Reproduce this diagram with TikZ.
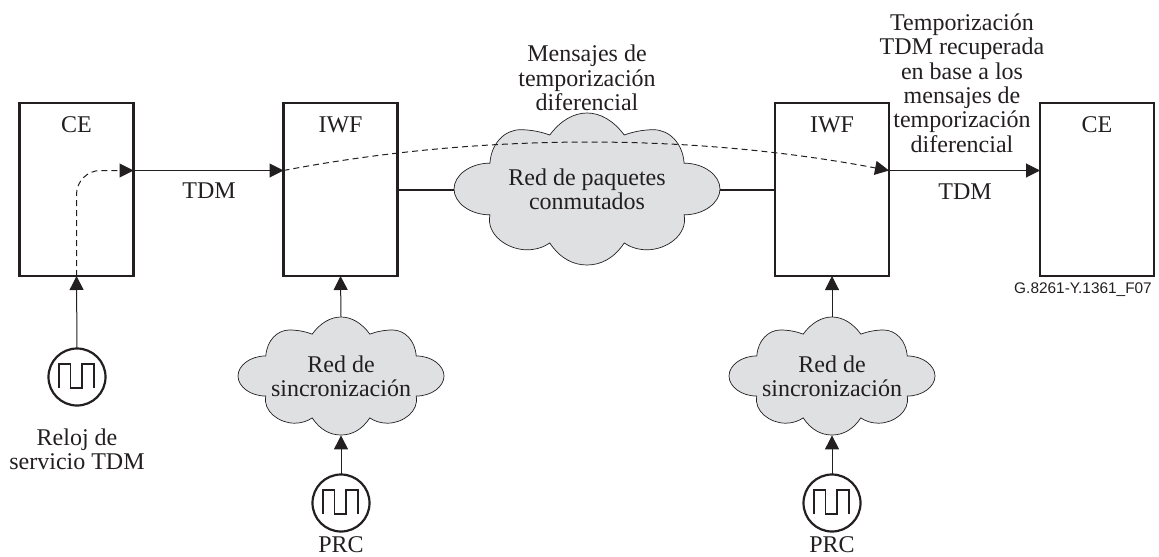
\documentclass[tikz,border=0pt]{standalone}
\usepackage{fontspec}
\setmainfont{Liberation Serif}
\setsansfont{Liberation Sans}
\usetikzlibrary{arrows.meta}
\definecolor{inkc}{HTML}{231F20}
\definecolor{cloudc}{HTML}{DFE0E2}
\tikzset{
	txt/.style = {inner sep=0pt, align=center, text=inkc, font=\fontsize{12}{12.2}\selectfont},
	netbox/.style = {draw=inkc, line width=1.25pt, minimum width=57pt, minimum height=86.5pt, inner sep=0pt, outer sep=0pt},
	clock/.style = {circle, draw=inkc, line width=1.1pt, minimum size=28.5pt, inner sep=0pt, outer sep=0pt},
	sig/.style = {draw=inkc, line width=.5pt},
	dashsig/.style = {draw=inkc, line width=.5pt, dash pattern = on 3pt off 2pt},
	wire/.style = {draw=inkc, line width=1pt},
	pulse/.pic = {
		\draw [inkc, line width=.85pt] (-18,11) -- (-18,-13) -- (-6.5,-13) -- (-6.5,11) -- (5,11) -- (5,-13) -- (17,-13) -- (17,11);
	},
	cloudshape/.pic = {
		\draw [fill=cloudc, draw=inkc, line width=.35pt] (-73,-34) .. controls (-88,-34) and (-100,-18) .. (-100,0)
			.. controls (-100,18) and (-88,34) .. (-73,34)
			.. controls (-76,60) and (-60,80) .. (-45,80)
			.. controls (-38,80) and (-32,76) .. (-28,71)
			.. controls (-20,92) and (-10,100) .. (0,100)
			.. controls (10,100) and (20,92) .. (28,71)
			.. controls (32,76) and (38,80) .. (45,80)
			.. controls (60,80) and (76,60) .. (73,34)
			.. controls (88,34) and (100,18) .. (100,0)
			.. controls (100,-18) and (88,-34) .. (73,-34)
			.. controls (72,-60) and (62,-78) .. (50,-78)
			.. controls (42,-78) and (34,-75) .. (28,-71)
			.. controls (20,-90) and (10,-100) .. (0,-100)
			.. controls (-10,-100) and (-20,-90) .. (-28,-71)
			.. controls (-34,-75) and (-42,-78) .. (-50,-78)
			.. controls (-62,-78) and (-72,-60) .. (-73,-34) -- cycle;
	}
}

\begin{document}
\begin{tikzpicture}[>={Triangle[length=7pt,width=7pt]}, x=.5pt, y=-.5pt]
	\useasboundingbox (0,0) rectangle (1159,556);
	\coordinate (tdmlevel) at (0,170.5);

	% clouds
	\pic [xscale=1.33, yscale=.76] at (587,189) {cloudshape};
	\pic [xscale=1.03, yscale=.59] at (341,376) {cloudshape};
	\pic [xscale=1.03, yscale=.59] at (832,376) {cloudshape};
	\node [txt, minimum width=133pt, minimum height=76pt] (redpaq) at (587,189.5) {Red de paquetes\\conmutados};
	\node [txt, minimum width=103pt, minimum height=59pt] (sinca) at (341,376) {Red de\\sincronización};
	\node [txt, minimum width=103pt, minimum height=59pt] (sincb) at (832,376) {Red de\\sincronización};

	% boxes
	\node [netbox] (cea) at (76.5,189.5) {};
	\node [netbox] (iwfa) at (340.5,189.5) {};
	\node [netbox] (iwfb) at (832,189.5) {};
	\node [netbox] (ceb) at (1097,189.5) {};
	\node [txt] (ceatxt) at (76.5,125) {CE};
	\node [txt] (iwfatxt) at (340.5,125) {IWF};
	\node [txt] (iwfbtxt) at (832,125) {IWF};
	\node [txt] (cebtxt) at (1097,125) {CE};

	% clocks
	\node [clock] (clksrv) at (77,377) {};
	\node [clock] (clka) at (341,503) {};
	\node [clock] (clkb) at (832,503) {};
	\pic at (clksrv) {pulse};
	\pic at (clka) {pulse};
	\pic at (clkb) {pulse};

	% connections
	\draw [sig, ->] (cea.east |- tdmlevel) -- (iwfa.west |- tdmlevel);
	\draw [sig, ->] (iwfb.east |- tdmlevel) -- (ceb.west |- tdmlevel);
	\draw [wire] (iwfa.east) -- (redpaq.west);
	\draw [wire] (redpaq.east) -- (iwfb.west);
	\draw [sig, ->] (clksrv.north) -- (cea.south);
	\draw [sig, ->] (sinca.north) -- (iwfa.south);
	\draw [sig, ->] (sincb.north) -- (iwfb.south);
	\draw [sig, ->] (clka.north) -- (sinca.south);
	\draw [sig, ->] (clkb.north) -- (sincb.south);
	\draw [dashsig, ->, rounded corners=12pt] (cea.south) |- (cea.east |- tdmlevel);
	\draw [dashsig, ->] (iwfa.west |- tdmlevel) .. controls (480,133) and (690,133) .. (iwfb.east |- tdmlevel);

	% labels
	\node [txt] (tdma) at (209,191) {TDM};
	\node [txt] (tdmb) at (965,192) {TDM};
	\node [txt] (msgdif) at (587,78) {Mensajes de\\temporización\\diferencial};
	\node [txt] (recup) at (962,83) {Temporización\\TDM recuperada\\en base a los\\mensajes de\\temporización\\diferencial};
	\node [txt] (relojtxt) at (77,449) {Reloj de\\servicio TDM};
	\node [txt] (prca) at (341,545) {PRC};
	\node [txt] (prcb) at (832,545) {PRC};
	\node [txt, font=\sffamily\fontsize{7.7}{9}\selectfont] (figref) at (1083,290) {G.8261-Y.1361\_F07};
\end{tikzpicture}
\end{document}
